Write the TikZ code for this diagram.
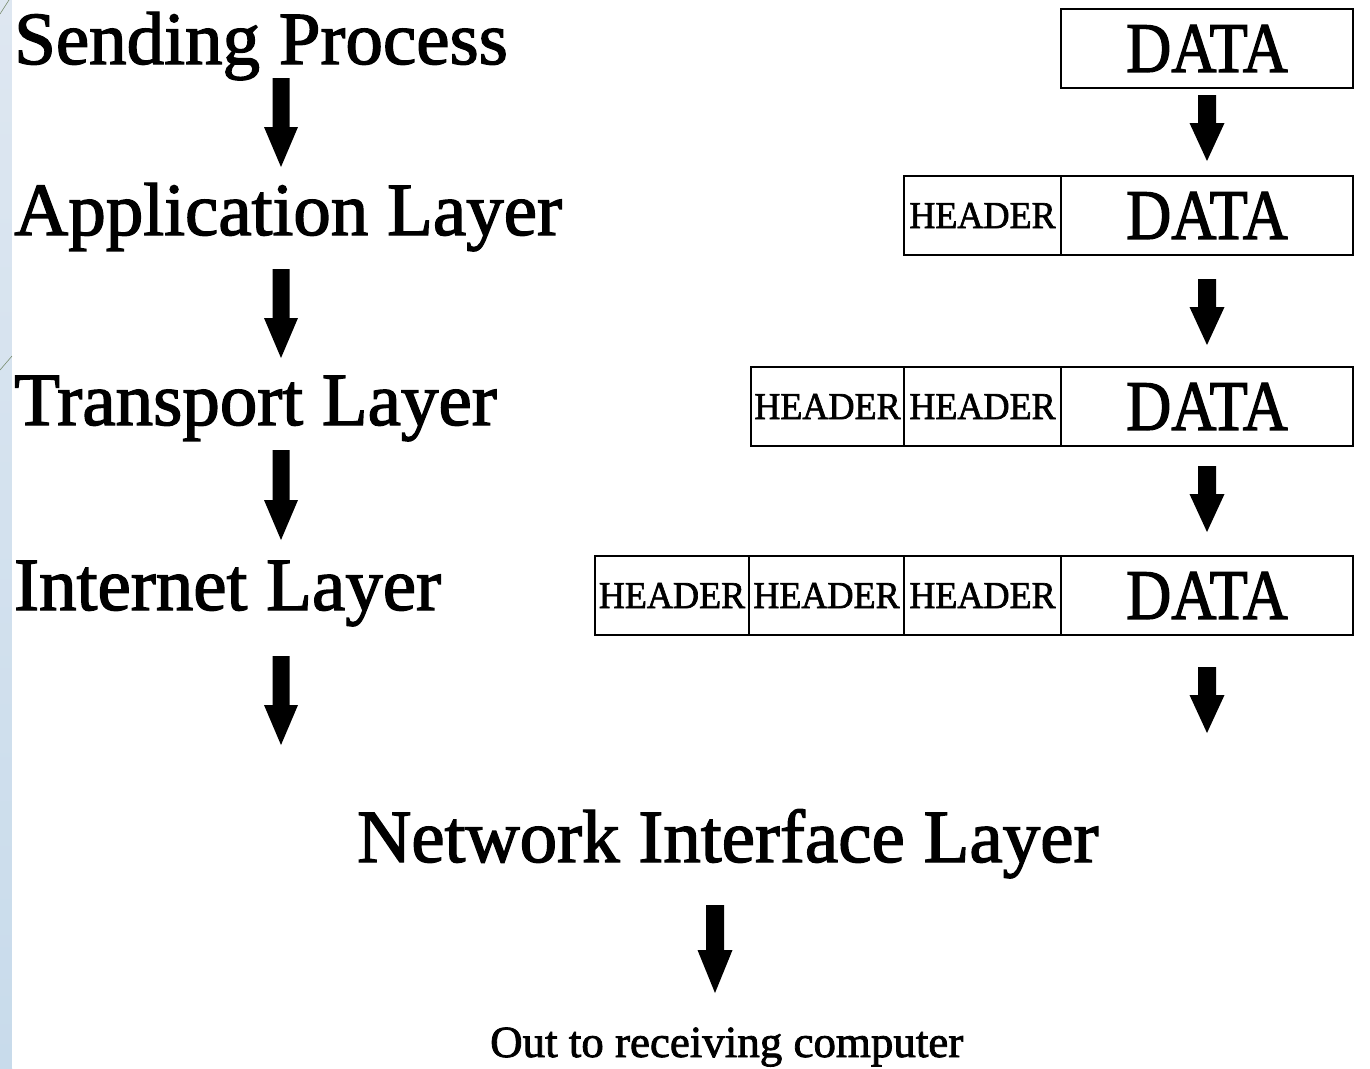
\documentclass[tikz,border=0pt]{standalone}
\usepackage{fontspec}
\setmainfont[FakeBold=1.5,AutoFakeBold=1.5]{Liberation Serif}
\newfontfamily\heavyserif[FakeBold=1.8]{Liberation Serif}
\usetikzlibrary{calc}
\definecolor{striptop}{RGB}{222,231,241}
\definecolor{stripbot}{RGB}{200,219,235}
\definecolor{slash}{RGB}{120,140,110}
\tikzset{
  lbl/.style={anchor=base west, inner sep=0pt, font=\heavyserif\fontsize{75}{80}\selectfont},
  cell/.style={draw, line width=2pt, minimum height=79pt, inner sep=0pt, anchor=north west},
  datacell/.style={cell, minimum width=292pt, font=\heavyserif\fontsize{71}{72}\selectfont},
  hdrcell/.style={cell, minimum width=155pt, font=\heavyserif\fontsize{38}{38}\selectfont},
}
% block arrow from shaft top (#1) to tip (#2); #3 half shaft, #4 half head, #5 head length
\newcommand\blockarrow[5]{%
  \fill let \p1=(#1), \p2=(#2) in
    (\x1-#3,\y1) -- (\x1+#3,\y1) -- (\x1+#3,\y2+#5) -- (\x1+#4,\y2+#5) --
    (\x2,\y2) -- (\x1-#4,\y2+#5) -- (\x1-#3,\y2+#5) -- cycle;}
\begin{document}
\begin{tikzpicture}[x=1pt,y=-1pt]
\useasboundingbox (0,0) rectangle (1370,1068);
% left decorative strip
\shade[top color=striptop, bottom color=stripbot] (0,0) rectangle (12,1068);
\fill[white] (12,0) rectangle (1370,1068);
\draw[slash, line width=0.6pt] (0,14) -- (9,0);
\draw[slash, line width=0.6pt] (0,370) -- (12,356);

% left labels
\node[lbl] (send) at (14,64) {Sending Process};
\node[lbl] (app) at (14,235) {Application Layer};
\node[lbl] (trans) at (14,425) {Transport Layer};
\node[lbl] (inet) at (14,610) {Internet Layer};
\node[lbl] (net) at (357,862) {Network Interface Layer};
\node[anchor=base west, inner sep=0pt, font=\heavyserif\fontsize{44.5}{46}\selectfont] (out) at (490,1057) {\scalebox{1.01}[1]{Out to receiving computer}};

% packet rows
\node[datacell] (d1) at (1060,8) {\scalebox{0.88}[1]{DATA}};

\node[datacell] (d2) at (1060,175) {\scalebox{0.88}[1]{DATA}};
\node[hdrcell, minimum width=157pt] (h21) at (903,175) {\scalebox{0.95}[1]{HEADER}};

\node[datacell] (d3) at (1060,366) {\scalebox{0.88}[1]{DATA}};
\node[hdrcell, minimum width=157pt] (h31) at (903,366) {\scalebox{0.95}[1]{HEADER}};
\node[hdrcell, minimum width=153pt] (h32) at (750,366) {\scalebox{0.95}[1]{HEADER}};

\node[datacell] (d4) at (1060,555) {\scalebox{0.88}[1]{DATA}};
\node[hdrcell, minimum width=157pt] (h41) at (903,555) {\scalebox{0.95}[1]{HEADER}};
\node[hdrcell, minimum width=155pt] (h42) at (748,555) {\scalebox{0.95}[1]{HEADER}};
\node[hdrcell, minimum width=154pt] (h43) at (594,555) {\scalebox{0.95}[1]{HEADER}};

% arrow end points
\coordinate (la1s) at (281,78);  \coordinate (la1e) at (281,167);
\coordinate (la2s) at (281,269); \coordinate (la2e) at (281,358);
\coordinate (la3s) at (281,450); \coordinate (la3e) at (281,540);
\coordinate (la4s) at (281,656); \coordinate (la4e) at (281,745);
\coordinate (ra1s) at (1207,95);  \coordinate (ra1e) at (1207,161);
\coordinate (ra2s) at (1207,279); \coordinate (ra2e) at (1207,345);
\coordinate (ra3s) at (1207,466); \coordinate (ra3e) at (1207,532);
\coordinate (ra4s) at (1207,667); \coordinate (ra4e) at (1207,733);
\coordinate (ba1s) at (715,905);  \coordinate (ba1e) at (715,993);

\blockarrow{la1s}{la1e}{8.5}{17}{40}
\blockarrow{la2s}{la2e}{8.5}{17}{40}
\blockarrow{la3s}{la3e}{8.5}{17}{40}
\blockarrow{la4s}{la4e}{8.5}{17}{40}
\blockarrow{ra1s}{ra1e}{9}{17.5}{38}
\blockarrow{ra2s}{ra2e}{9}{17.5}{38}
\blockarrow{ra3s}{ra3e}{9}{17.5}{38}
\blockarrow{ra4s}{ra4e}{9}{17.5}{38}
\blockarrow{ba1s}{ba1e}{9}{17.5}{43}
\end{tikzpicture}
\end{document}
